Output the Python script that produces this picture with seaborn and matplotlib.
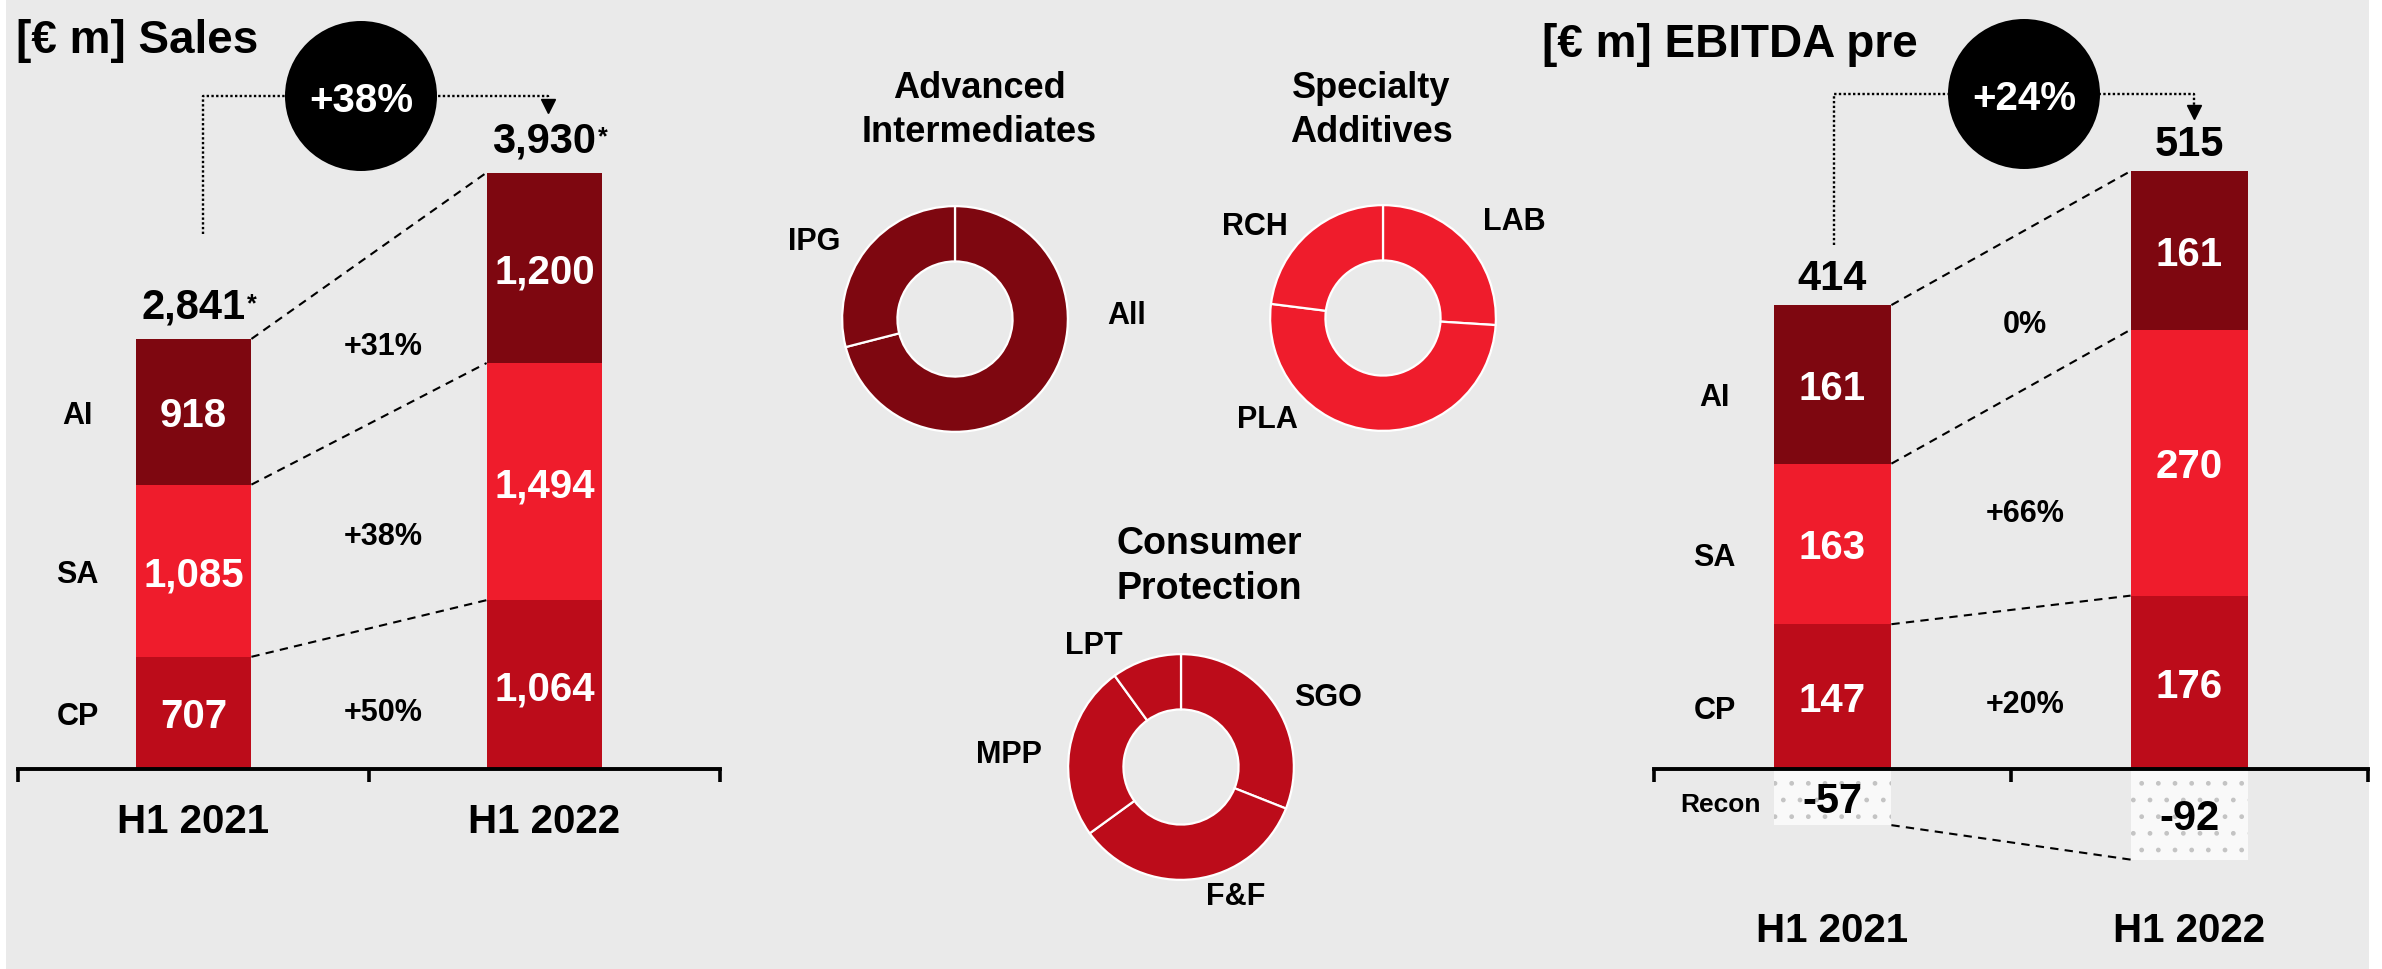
import matplotlib
matplotlib.use("Agg")
import matplotlib.pyplot as plt
from matplotlib.patches import Ellipse, Rectangle
import seaborn as sns
import numpy as np

# ---------------- data ----------------
periods = ["H1 2021", "H1 2022"]
segments = ["CP", "SA", "AI"]          # bottom -> top

sales_cp = [707, 1064]
sales_sa = [1085, 1494]
sales_ai = [918, 1200]
sales_total = ["2,841", "3,930"]
sales_growth = ["+50%", "+38%", "+31%"]   # CP, SA, AI
sales_badge = "+38%"

ebitda_cp = [147, 176]
ebitda_sa = [163, 270]
ebitda_ai = [161, 161]
ebitda_recon = [-57, -92]
ebitda_total = ["414", "515"]
ebitda_growth = ["+20%", "+66%", "0%"]    # CP, SA, AI
ebitda_badge = "+24%"

ai_names = ["All", "IPG"]
ai_shares = [71, 29]
sa_names = ["LAB", "PLA", "RCH"]
sa_shares = [26, 51, 23]
cp_names = ["SGO", "F&F", "MPP", "LPT"]
cp_shares = [31, 34, 25, 10]

# ---------------- style ----------------
W, H, DPI = 2382, 970, 100
sns.set_theme(style="white")
plt.rcParams["font.family"] = ["Liberation Sans", "DejaVu Sans"]
plt.rcParams["font.weight"] = "bold"
plt.rcParams["text.color"] = "black"
plt.rcParams["xtick.color"] = "black"
plt.rcParams["xtick.labelcolor"] = "black"
plt.rcParams["hatch.linewidth"] = 1.0

BG = "#EAEAEA"
C_AI, C_SA, C_CP = "#7E0710", "#EF1C2C", "#BC0C1A"
seg_colors = [C_CP, C_SA, C_AI]

fig = plt.figure(figsize=(W / DPI, H / DPI), dpi=DPI, facecolor="white")
fig.patches.append(Rectangle((6 / W, 0), (2369 - 6) / W, (H - 1) / H,
                             transform=fig.transFigure, facecolor=BG,
                             edgecolor="none", zorder=0))

ov = fig.add_axes([0, 0, 1, 1], zorder=20)
ov.set_xlim(0, W)
ov.set_ylim(H, 0)
ov.axis("off")
ov.patch.set_alpha(0)


def T(x, y, s, size, color="black", ha="center", va="baseline", **kw):
    return ov.text(x, y, s, fontsize=size, color=color, ha=ha, va=va,
                   fontweight="bold", **kw)


def TC(x, yc, s, size, **kw):
    # place text so that the cap-height centre sits at yc (pixels)
    return T(x, yc + size / 2.0, s, size, **kw)


BASE = 770
BW = 0.33


def annot_c(ax, x, y, s, size, color="black", dy_px=0):
    return ax.annotate(s, (x, y), xytext=(0, -(size / 2.0 + dy_px) * 0.72),
                       textcoords="offset points", ha="center", va="baseline",
                       fontsize=size, color=color, fontweight="bold",
                       annotation_clip=False)


def panel(x0, x1, ppu, layers, totals, growth, tick_pad, total_gap,
          row_dy=0, recon=None):
    ax = fig.add_axes([x0 / W, 0, (x1 - x0) / W, 1], zorder=5)
    ax.patch.set_alpha(0)
    layers = np.array(layers, dtype=float)
    stack = np.cumsum(layers, axis=0)
    for k in reversed(range(len(layers))):
        sns.barplot(x=periods, y=stack[k], color=seg_colors[k], saturation=1,
                    width=BW, errorbar=None, ax=ax, linewidth=0)
    if recon is not None:
        n0 = len(ax.patches)
        sns.barplot(x=periods, y=recon, color="#F9F9F9", saturation=1,
                    width=BW, errorbar=None, ax=ax, linewidth=0)
        for p in ax.patches[n0:]:
            p.set_edgecolor("#C4C4C4")
            p.set_linewidth(0)
            p.set_hatch(".")
    ax.set_xlim(-0.5, 1.5)
    ax.set_ylim(-(H - BASE) / ppu, BASE / ppu)
    ax.set_xlabel("")
    ax.set_ylabel("")
    ax.set_yticks([])
    for s in ["left", "right", "top"]:
        ax.spines[s].set_visible(False)
    ax.spines["bottom"].set_position(("data", 0))
    ax.spines["bottom"].set_linewidth(2.8)
    ax.spines["bottom"].set_color("black")
    ax.spines["bottom"].set_zorder(3)
    ax.set_xticks([0, 1])
    ax.set_xticklabels(periods, fontsize=29, fontweight="bold", color="black")
    ax.set_xticks([-0.5, 0.5, 1.5], minor=True)
    ax.tick_params(axis="x", which="major", length=0, pad=tick_pad, bottom=True)
    ax.tick_params(axis="x", which="minor", length=9, width=2.6, color="black",
                   direction="out", bottom=True)

    # segment values and row labels
    for k in range(len(layers)):
        for i in range(2):
            cy = stack[k][i] - layers[k][i] / 2
            annot_c(ax, i, cy, f"{int(layers[k][i]):,}", 29, color="white")
        cy0 = stack[k][0] - layers[k][0] / 2
        annot_c(ax, -0.33, cy0, segments[k], 22, dy_px=row_dy)

    # connectors
    xl, xr = BW / 2, 1 - BW / 2
    for k in range(len(layers)):
        ax.plot([xl, xr], [stack[k][0], stack[k][1]], ls=(0, (4, 3)),
                lw=1.5, color="black", clip_on=False, zorder=4)
    if recon is not None:
        ax.plot([xl, xr], [recon[0], recon[1]], ls=(0, (4, 3)), lw=1.5,
                color="black", clip_on=False, zorder=4)
        for i in range(2):
            annot_c(ax, i, recon[i] / 2, f"{recon[i]}", 30)

    # growth labels in the bands between connectors
    xg = 0.54
    f = (xg - xl) / (xr - xl)
    lower = 0.0
    for k in range(len(layers)):
        upper = stack[k][0] + (stack[k][1] - stack[k][0]) * f
        annot_c(ax, xg, (upper + lower) / 2, growth[k], 22, dy_px=12)
        lower = upper

    # totals
    tots = []
    for i in range(2):
        t = ax.annotate(totals[i], (i, stack[-1][i]),
                        xytext=(0, total_gap * 0.72),
                        textcoords="offset points", ha="center", va="baseline",
                        fontsize=30, fontweight="bold", color="black",
                        annotation_clip=False)
        tots.append(t)
    return ax, tots


axL, totL = panel(18, 720, 0.1587, [sales_cp, sales_sa, sales_ai],
                  sales_total, sales_growth, tick_pad=24, total_gap=21)
axR, totR = panel(1654, 2368, 0.985, [ebitda_cp, ebitda_sa, ebitda_ai],
                  ebitda_total, ebitda_growth, tick_pad=102, total_gap=16,
                  row_dy=10, recon=ebitda_recon)
TC(1720, 803, "Recon", 19)

# titles
T(16, 53, "[€ m] Sales", 33, ha="left")
T(1542, 57, "[€ m] EBITDA pre", 33, ha="left")


# badges and dotted brackets
def bracket(xv, y0, yh, xa, ytip):
    ov.plot([xv, xv, xa, xa], [y0, yh, yh, ytip - 10], ls=(0, (1, 1)),
            lw=1.7, color="black", zorder=2)
    ov.plot([xa], [ytip - 7], marker="v", ms=10, color="black", zorder=2)


def badge(cx, cy, text):
    ov.add_patch(Ellipse((cx, cy), 152, 150, facecolor="black",
                         edgecolor="none", zorder=3))
    TC(cx, cy, text, 29, color="white", zorder=4)


bracket(203, 235, 97, 548, 114)
badge(361, 97, sales_badge)
bracket(1834, 246, 95, 2194, 120)
badge(2024, 95, ebitda_badge)


# donuts
def donut(cx, cy, d, shares, color):
    a = fig.add_axes([(cx - d / 2) / W, 1 - (cy + d / 2) / H, d / W, d / H],
                     zorder=4)
    a.pie(shares, colors=[color] * len(shares), startangle=90,
          counterclock=False,
          wedgeprops=dict(width=0.49, edgecolor="white", linewidth=1.6))
    a.set_xlim(-1.01, 1.01)
    a.set_ylim(-1.01, 1.01)
    a.set_aspect("auto")
    a.axis("off")
    return a


donut(955, 320, 228, ai_shares, C_AI)
donut(1383, 319, 228, sa_shares, C_SA)
donut(1181, 768, 228, cp_shares, C_CP)

T(979, 98, "Advanced", 26)
T(979, 142, "Intermediates", 26)
T(1371, 98, "Specialty", 26)
T(1371, 142, "Additives", 26)
T(1209, 554, "Consumer", 27)
T(1209, 599, "Protection", 27)

label_pos = {
    "All": (1127, 313), "IPG": (814, 239),
    "LAB": (1514, 219), "PLA": (1267, 417), "RCH": (1255, 224),
    "SGO": (1328, 695), "F&F": (1236, 894), "MPP": (1009, 752), "LPT": (1094, 643),
}
for name in ai_names + sa_names + cp_names:
    x, y = label_pos[name]
    TC(x, y, name, 22)

# asterisks after the sales totals
fig.canvas.draw()
r = fig.canvas.get_renderer()
for t in totL:
    bb = t.get_window_extent(r)
    top_px = H - bb.y1
    ov.text(bb.x1 + 1, top_px + 4, "*", fontsize=18, fontweight="bold",
            ha="left", va="top", color="black")

fig.savefig("out.png", dpi=DPI, facecolor="white")
